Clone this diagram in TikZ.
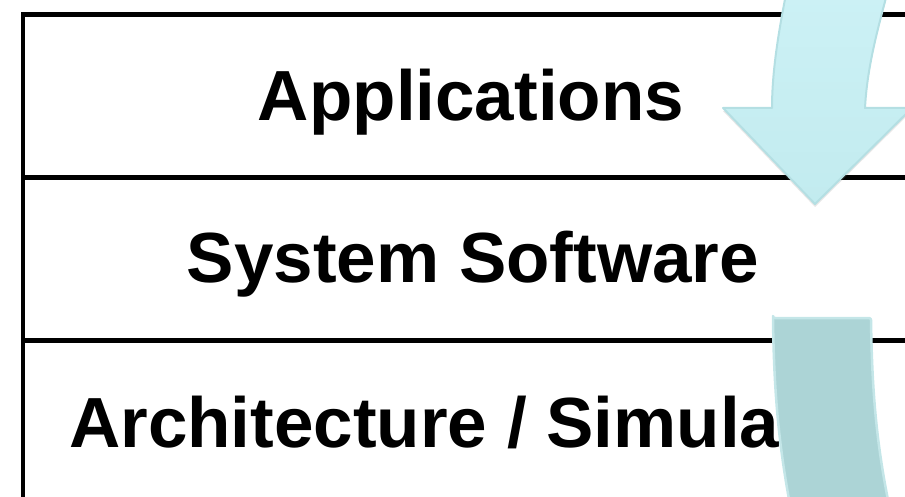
\documentclass[tikz,border=0pt]{standalone}
\usepackage{fontspec}
\setmainfont{Liberation Sans}
\usetikzlibrary{shadows}
\definecolor{arrowA}{HTML}{C2EBEF}
\definecolor{arrowAtop}{HTML}{CCF1F5}
\definecolor{arrowAedge}{HTML}{B4DFE3}
\definecolor{arrowB}{HTML}{ACD4D6}
\definecolor{arrowBedge}{HTML}{C4E6E8}
\tikzset{
  rule/.style={line width=4.5pt, black},
  layertext/.style={font=\fontsize{71}{80}\selectfont\bfseries, inner sep=0pt},
  bigarrowA/.style={top color=arrowAtop, bottom color=arrowA, draw=arrowAedge, line width=2pt, line join=round,
     drop shadow={opacity=0.2, shadow xshift=0pt, shadow yshift=-3pt}},
  bigarrowB/.style={fill=arrowB, draw=arrowBedge, line width=2.5pt, line join=round, rounded corners=2pt}
}
\begin{document}
\begin{tikzpicture}[x=1pt, y=-1pt]
\useasboundingbox (0,0) rectangle (905,497);
\begin{scope}
\clip (0,0) rectangle (905,497);
% layer rules
\draw[rule] (23,12.5) -- (23,500);
\draw[rule] (21,14.5) -- (910,14.5);
\draw[rule] (21,177.5) -- (910,177.5);
\draw[rule] (21,340.5) -- (910,340.5);
% texts
\node[layertext, anchor=base] (apps) at (471,121) {Applications};
\node[layertext, anchor=base] (syssw) at (473,283) {System Software};
\node[layertext, anchor=base west] (arch) at (69,447) {Architecture / Simula};
% top curved arrow
\path[bigarrowA] (786,-6) .. controls (779,30) and (772,70) .. (772,108)
   -- (723,108) -- (815,204) -- (912,108) -- (865,108)
   .. controls (867,70) and (876,35) .. (887,-6) -- cycle;
% bottom arrow (shaft)
\path[bigarrowB] (773,318) -- (871,318)
   .. controls (872,400) and (878,450) .. (889,505)
   -- (790,505) .. controls (780,450) and (774,400) .. (773,318) -- cycle;
\end{scope}
\end{tikzpicture}
\end{document}
